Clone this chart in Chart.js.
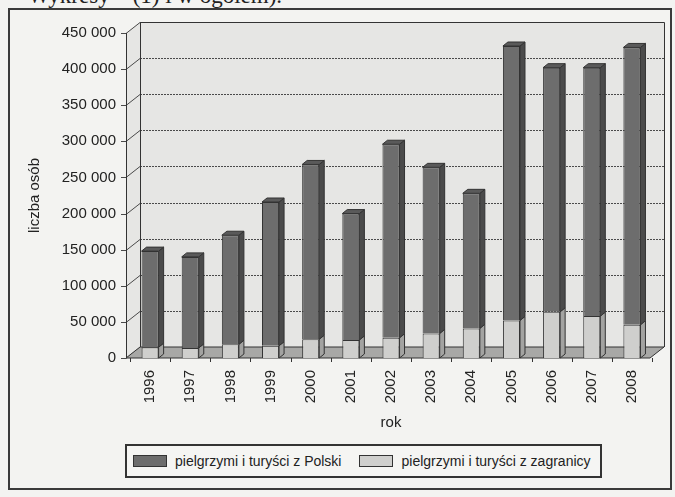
<!DOCTYPE html>
<html lang="pl">
<head>
  <meta charset="UTF-8" />
  <title>Pielgrzymi i turyści 1996–2008</title>
  <script src="https://cdn.jsdelivr.net/npm/chart.js"></script>
  <style>
    body {
      margin: 0;
      width: 675px;
      height: 497px;
      overflow: hidden;
      position: relative;
      background: #f3f3f1;
      font-family: 'Liberation Sans', Arial, sans-serif;
      color: #222;
    }

    .caption {
      position: absolute;
      left: 28px;
      top: -16px;
      font-family: 'Liberation Serif', serif;
      font-size: 23px;
      line-height: 23px;
      white-space: nowrap;
    }

    .frame {
      position: absolute;
      left: 8px;
      top: 8px;
      width: 664px;
      height: 482px;
      border: 2px solid #3a3a3a;
      box-sizing: border-box;
    }

    canvas {
      position: absolute;
      left: 0;
      top: 0;
    }

    .legend {
      position: absolute;
      left: 125px;
      top: 444px;
      width: 477px;
      height: 34px;
      box-sizing: border-box;
      border: 2px solid #333;
      background: #f5f5f3;
      display: flex;
      align-items: center;
      padding-left: 6px;
      font-size: 14px;
      white-space: nowrap;
    }

    .sw {
      display: inline-block;
      width: 32px;
      height: 10px;
      border: 1px solid #333;
      margin-right: 8px;
    }
    .sw.dark { background: #6d6d6d; }
    .sw.light { background: #cfcfcd; margin-left: 18px; }
  </style>
</head>
<body>
  <div class="caption">Wykresy – (1) i w ogółem).</div>
  <div class="frame"></div>
  <canvas id="chart" width="675" height="497"></canvas>
  <div class="legend">
    <span class="sw dark"></span>pielgrzymi i turyści z Polski
    <span class="sw light"></span>pielgrzymi i turyści z zagranicy
  </div>

  <script>
    const years = ['1996', '1997', '1998', '1999', '2000', '2001', '2002', '2003', '2004', '2005', '2006', '2007', '2008'];
    const fromPoland = [133000, 126000, 151000, 199000, 242000, 175000, 268000, 230000, 187000, 380000, 338000, 344000, 384000];
    const fromAbroad = [15000, 14000, 19000, 17000, 26000, 25000, 28000, 34000, 41000, 52000, 64000, 58000, 46000];
    const yMax = 450000;
    const yStep = 50000;

    // 3D look: wall depth and bar depth (pixels)
    const WX = 14, WY = 11, BX = 5, BY = 4;

    const faces = [
      { side: '#a3a3a1', top: '#bcbcba' },
      { side: '#4b4b4b', top: '#5a5a5a' }
    ];

    const scene3d = {
      id: 'scene3d',
      beforeDatasetsDraw(chart) {
        const { ctx, chartArea: a, scales: { y } } = chart;
        const x0 = a.left - 4, x1 = a.right - 2;
        const yb = y.getPixelForValue(0), yt = y.getPixelForValue(yMax);
        ctx.save();

        // back wall + left wall
        ctx.fillStyle = '#e6e6e4';
        ctx.fillRect(x0 + WX, yt - WY, x1 - x0, yb - yt);
        ctx.beginPath();
        ctx.moveTo(x0, yt); ctx.lineTo(x0 + WX, yt - WY);
        ctx.lineTo(x0 + WX, yb - WY); ctx.lineTo(x0, yb);
        ctx.closePath();
        ctx.fill();

        // gridlines on the back wall
        ctx.strokeStyle = '#4a4a4a';
        ctx.lineWidth = 1;
        y.ticks.forEach(t => {
          const py = Math.round(y.getPixelForValue(t.value)) + 0.5;
          ctx.setLineDash(t.value === 0 ? [] : [2, 1]);
          ctx.beginPath();
          ctx.moveTo(x0 + WX, py - WY);
          ctx.lineTo(x1 + WX, py - WY);
          ctx.stroke();
          ctx.setLineDash([]);
          ctx.beginPath();
          ctx.moveTo(x0 - 5, py);
          ctx.lineTo(x0, py);
          ctx.lineTo(x0 + WX, py - WY);
          ctx.stroke();
        });

        // wall outlines
        ctx.strokeStyle = '#333';
        ctx.beginPath();
        ctx.moveTo(x0 + WX + 0.5, yb - WY);
        ctx.lineTo(x0 + WX + 0.5, yt - WY + 0.5);
        ctx.lineTo(x1 + WX + 0.5, yt - WY + 0.5);
        ctx.lineTo(x1 + WX + 0.5, yb - WY);
        ctx.stroke();
        ctx.beginPath();
        ctx.moveTo(x0 + 0.5, yt);
        ctx.lineTo(x0 + 0.5, yb);
        ctx.stroke();

        // floor
        ctx.fillStyle = '#a8a8a6';
        ctx.beginPath();
        ctx.moveTo(x0, yb); ctx.lineTo(x1, yb);
        ctx.lineTo(x1 + WX, yb - WY); ctx.lineTo(x0 + WX, yb - WY);
        ctx.closePath();
        ctx.fill();
        ctx.stroke();

        // small category ticks under the floor
        for (let i = 0; i <= years.length; i++) {
          const px = Math.round(a.left + i * (a.right - a.left) / years.length) + 0.5;
          ctx.beginPath();
          ctx.moveTo(px, yb);
          ctx.lineTo(px, yb + 4);
          ctx.stroke();
        }
        ctx.restore();
      },
      afterDatasetsDraw(chart) {
        const { ctx } = chart;
        const last = chart.data.datasets.length - 1;
        ctx.save();
        ctx.strokeStyle = '#333';
        ctx.lineWidth = 1;
        chart.data.datasets.forEach((ds, di) => {
          chart.getDatasetMeta(di).data.forEach(bar => {
            const { x, y, base, width } = bar.getProps(['x', 'y', 'base', 'width'], true);
            const l = x - width / 2, r = x + width / 2;
            ctx.fillStyle = faces[di].side;
            ctx.beginPath();
            ctx.moveTo(r, y); ctx.lineTo(r + BX, y - BY);
            ctx.lineTo(r + BX, base - BY); ctx.lineTo(r, base);
            ctx.closePath();
            ctx.fill(); ctx.stroke();
            if (di === last) {
              ctx.fillStyle = faces[di].top;
              ctx.beginPath();
              ctx.moveTo(l, y); ctx.lineTo(l + BX, y - BY);
              ctx.lineTo(r + BX, y - BY); ctx.lineTo(r, y);
              ctx.closePath();
              ctx.fill(); ctx.stroke();
            }
          });
        });
        ctx.restore();
      }
    };

    new Chart(document.getElementById('chart'), {
      type: 'bar',
      data: {
        labels: years,
        datasets: [
          {
            label: 'pielgrzymi i turyści z zagranicy',
            data: fromAbroad,
            backgroundColor: '#cfcfcd',
            borderColor: '#333',
            borderWidth: 1
          },
          {
            label: 'pielgrzymi i turyści z Polski',
            data: fromPoland,
            backgroundColor: '#6d6d6d',
            borderColor: '#333',
            borderWidth: 1
          }
        ]
      },
      options: {
        responsive: false,
        animation: false,
        layout: { padding: { left: 10, right: 23, top: 33, bottom: 65 } },
        datasets: { bar: { barPercentage: 0.5, categoryPercentage: 0.85 } },
        plugins: {
          legend: { display: false },
          tooltip: { enabled: false }
        },
        scales: {
          x: {
            stacked: true,
            grid: { display: false, drawTicks: false },
            border: { display: false },
            ticks: {
              minRotation: 90, maxRotation: 90, padding: 12,
              color: '#222', font: { family: 'Liberation Sans', size: 15 }
            },
            title: {
              display: true, text: 'rok', color: '#222',
              font: { family: 'Liberation Sans', size: 15 },
              padding: { top: 0, bottom: 0 }
            },
            afterFit: s => { s.height = 74; }
          },
          y: {
            stacked: true,
            min: 0,
            max: yMax,
            grid: { display: false, drawTicks: false },
            border: { display: false },
            ticks: {
              stepSize: yStep,
              padding: 14,
              color: '#222',
              font: { family: 'Liberation Sans', size: 15 },
              callback: v => v === 0 ? '0' : (v / 1000) + ' 000'
            },
            title: {
              display: true, text: 'liczba osób', color: '#222',
              font: { family: 'Liberation Sans', size: 15 },
              padding: { top: 16, bottom: 0 }
            },
            afterFit: s => { s.width = 120; }
          }
        }
      },
      plugins: [scene3d]
    });
  </script>
</body>
</html>
